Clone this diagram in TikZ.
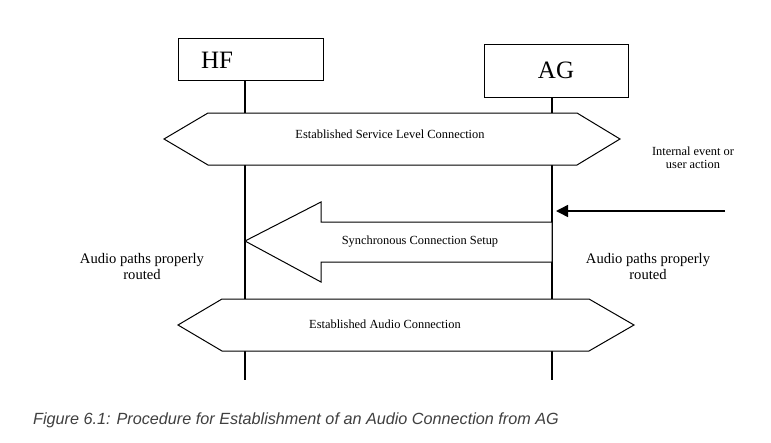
\documentclass[tikz,border=0pt]{standalone}
\usepackage{fontspec}
\setmainfont{Liberation Serif}
\newfontfamily\capfont{Liberation Sans}
\usetikzlibrary{arrows.meta}

\tikzset{
	entity/.style={draw, line width=.9pt, inner sep=0pt},
	entitytext/.style={font=\fontsize{25}{25}\selectfont},
	lifeline/.style={line width=1.5pt},
	bubble/.style={draw, line width=1pt, fill=white, line join=miter},
	msgtext/.style={font=\fontsize{12.4}{14}\selectfont},
	notetext/.style={align=center, font=\fontsize{14.6}{16}\selectfont},
}

\begin{document}
\begin{tikzpicture}[x=1pt, y=-1pt]
	\useasboundingbox[fill=white] (0,0) rectangle (771,442);
	% Teilnehmer
	\node[entity, minimum width=145, minimum height=42] (hf) at (250.5,59) {};
	\node[entitytext] (hflabel) at (217,60) {HF};
	\node[entity, entitytext, minimum width=144, minimum height=53] (ag) at (556,70.5) {AG};
	\coordinate (hfend) at (245,380);
	\coordinate (agend) at (552,380);
	\draw[lifeline] (hf.south -| hfend) -- (hfend);
	\draw[lifeline] (ag.south -| agend) -- (agend);
	% Service Level Connection
	\draw[bubble] (164,139) -- (208,113) -- (577,113) -- (620,139) -- (577,165) -- (208,165) -- cycle;
	\node[msgtext] (slc) at (390,134) {Established Service Level Connection};
	% Ausloeser
	\node[msgtext, align=center, font=\fontsize{12.4}{13.5}\selectfont] (event) at (693,158) {Internal event or\\user action};
	\coordinate (eventstart) at (725,211);
	\draw[line width=1.5pt, -{Triangle[length=12pt, width=12pt]}] (eventstart) -- (eventstart -| 556,0);
	% Synchronous Connection Setup
	\draw[bubble] (245,241) -- (321,202) -- (321,222) -- (552,222) -- (552,262) -- (321,262) -- (321,282) -- cycle;
	\node[msgtext] (scs) at (420,242) {Synchronous Connection Setup};
	\node[notetext] (hfnote) at (142,267) {Audio paths properly\\routed};
	\node[notetext] (agnote) at (648,267) {Audio paths properly\\routed};
	% Audio Connection
	\draw[bubble] (178,325) -- (222,299) -- (589,299) -- (634,325) -- (589,351) -- (222,351) -- cycle;
	\node[msgtext] (sco) at (385,324) {Established Audio Connection};
	% Bildunterschrift
	\node[anchor=west, inner sep=0pt, text=black!75, font=\capfont\itshape\fontsize{16.2}{18}\selectfont] (caption) at (33,420) {Figure 6.1: Procedure for Establishment of an Audio Connection from AG};
\end{tikzpicture}
\end{document}
